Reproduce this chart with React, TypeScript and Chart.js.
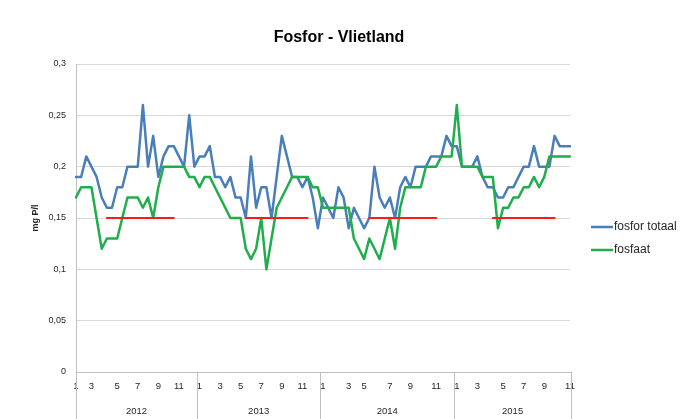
import React, { useEffect, useRef } from 'react';
import { Chart, registerables } from 'chart.js';

Chart.register(...registerables);

const FONT = "'Liberation Sans', Arial, sans-serif";

// ---------- data ----------
const years = ['2012', '2013', '2014', '2015'];

// month of each sample, per year
const months2012 = [1, 1, 2, 3, 3, 4, 4, 4, 5, 5, 5, 6, 7, 7, 7, 8, 9, 9, 9, 10, 11, 11, 12, 12];
const months2013 = [1, 1, 2, 2, 3, 3, 4, 4, 5, 5, 6, 6, 7, 7, 8, 8, 9, 9, 10, 10, 11, 11, 12, 12];
const months2014 = [1, 1, 2, 2, 2, 3, 3, 4, 5, 5, 5, 6, 6, 7, 7, 8, 8, 9, 9, 10, 10, 10, 11, 11, 12, 12];
const months2015 = [1, 1, 2, 2, 3, 3, 4, 4, 4, 5, 5, 6, 6, 7, 7, 8, 8, 9, 9, 10, 10, 10, 11];

// fosfor totaal (mg P/l)
const fosforTotaal2012 = [0.19, 0.19, 0.21, 0.20, 0.19, 0.17, 0.16, 0.16, 0.18, 0.18, 0.20, 0.20, 0.20, 0.26, 0.20, 0.23, 0.19, 0.21, 0.22, 0.22, 0.21, 0.20, 0.25, 0.20];
const fosforTotaal2013 = [0.21, 0.21, 0.22, 0.19, 0.19, 0.18, 0.19, 0.17, 0.17, 0.15, 0.21, 0.16, 0.18, 0.18, 0.15, 0.19, 0.23, 0.21, 0.19, 0.19, 0.18, 0.19, 0.17, 0.14];
const fosforTotaal2014 = [0.17, 0.16, 0.15, 0.18, 0.17, 0.14, 0.16, 0.15, 0.14, 0.15, 0.20, 0.17, 0.16, 0.17, 0.15, 0.18, 0.19, 0.18, 0.20, 0.20, 0.20, 0.21, 0.21, 0.21, 0.23, 0.22];
const fosforTotaal2015 = [0.22, 0.20, 0.20, 0.20, 0.21, 0.19, 0.18, 0.18, 0.17, 0.17, 0.18, 0.18, 0.19, 0.20, 0.20, 0.22, 0.20, 0.20, 0.20, 0.23, 0.22, 0.22, 0.22];

// fosfaat (mg P/l)
const fosfaat2012 = [0.17, 0.18, 0.18, 0.18, 0.15, 0.12, 0.13, 0.13, 0.13, 0.15, 0.17, 0.17, 0.17, 0.16, 0.17, 0.15, 0.18, 0.20, 0.20, 0.20, 0.20, 0.20, 0.19, 0.19];
const fosfaat2013 = [0.18, 0.19, 0.19, 0.18, 0.17, 0.16, 0.15, 0.15, 0.15, 0.12, 0.11, 0.12, 0.15, 0.10, 0.13, 0.16, 0.17, 0.18, 0.19, 0.19, 0.19, 0.19, 0.18, 0.18];
const fosfaat2014 = [0.16, 0.16, 0.16, 0.16, 0.16, 0.16, 0.13, 0.12, 0.11, 0.13, 0.12, 0.11, 0.13, 0.15, 0.12, 0.16, 0.18, 0.18, 0.18, 0.18, 0.20, 0.20, 0.20, 0.21, 0.21, 0.21];
const fosfaat2015 = [0.26, 0.20, 0.20, 0.20, 0.20, 0.19, 0.19, 0.19, 0.14, 0.16, 0.16, 0.17, 0.17, 0.18, 0.18, 0.19, 0.18, 0.19, 0.21, 0.21, 0.21, 0.21, 0.21];

// norm (summer period)
const _ = null;
const norm2012 = [_, _, _, _, _, _, 0.15, 0.15, 0.15, 0.15, 0.15, 0.15, 0.15, 0.15, 0.15, 0.15, 0.15, 0.15, 0.15, 0.15, _, _, _, _];
const norm2013 = [_, _, _, _, _, _, _, _, _, 0.15, 0.15, 0.15, 0.15, 0.15, 0.15, 0.15, 0.15, 0.15, 0.15, 0.15, 0.15, 0.15, _, _];
const norm2014 = [_, _, _, _, _, _, _, _, _, 0.15, 0.15, 0.15, 0.15, 0.15, 0.15, 0.15, 0.15, 0.15, 0.15, 0.15, 0.15, 0.15, 0.15, _, _, _];
const norm2015 = [_, _, _, _, _, _, _, 0.15, 0.15, 0.15, 0.15, 0.15, 0.15, 0.15, 0.15, 0.15, 0.15, 0.15, 0.15, 0.15, _, _, _];

const seriesNames = ['fosfor totaal', 'fosfaat'];
const yMin = 0;
const yMax = 0.3;
const yStep = 0.05;

// ---------- derived ----------
const monthsByYear = [months2012, months2013, months2014, months2015];
const yearCounts = monthsByYear.map((m) => m.length);
const months = monthsByYear.flat();
const fosforTotaal = [fosforTotaal2012, fosforTotaal2013, fosforTotaal2014, fosforTotaal2015].flat();
const fosfaat = [fosfaat2012, fosfaat2013, fosfaat2014, fosfaat2015].flat();
const norm = [norm2012, norm2013, norm2014, norm2015].flat();
const showLabel: boolean[] = [];
monthsByYear.forEach((ms) =>
  ms.forEach((m, i) => showLabel.push(m % 2 === 1 && (i === 0 || ms[i - 1] !== m)))
);

const BLUE = '#4a7ebb';
const GREEN = '#1fae4b';
const RED = '#ff1a1a';
const AXIS = '#bfbfbf';
const GRID = '#d9d9d9';
const TEXT = '#262626';

const decorPlugin = {
  id: 'decor',
  afterDraw(chart: any) {
    const { ctx, chartArea, scales } = chart;
    const x = scales.x;
    ctx.save();
    // title
    ctx.fillStyle = '#000';
    ctx.font = `bold 16px ${FONT}`;
    ctx.textAlign = 'center';
    ctx.textBaseline = 'middle';
    ctx.fillText('Fosfor - Vlietland', 339, 38);

    // year groups
    const edges: number[] = [chartArea.left];
    let start = 0;
    yearCounts.forEach((n, yi) => {
      const end = start + n - 1;
      const e =
        yi === yearCounts.length - 1
          ? chartArea.right + 1
          : (x.getPixelForValue(end) + x.getPixelForValue(end + 1)) / 2;
      edges.push(e);
      start += n;
    });
    ctx.strokeStyle = AXIS;
    ctx.lineWidth = 1;
    edges.forEach((e) => {
      const px = Math.round(e) + 0.5;
      ctx.beginPath();
      ctx.moveTo(px, chartArea.bottom);
      ctx.lineTo(px, chart.height);
      ctx.stroke();
    });
    ctx.fillStyle = TEXT;
    ctx.font = `9.5px ${FONT}`;
    years.forEach((y, i) => {
      ctx.fillText(y, (edges[i] + edges[i + 1]) / 2, chartArea.bottom + 39);
    });

    // legend
    const lx = chartArea.right + 21;
    const cy = (chartArea.top + chartArea.bottom) / 2;
    const rows = [
      { label: seriesNames[0], color: BLUE, y: cy + 9 },
      { label: seriesNames[1], color: GREEN, y: cy + 32 },
    ];
    ctx.font = `12px ${FONT}`;
    ctx.textAlign = 'left';
    rows.forEach((r) => {
      ctx.strokeStyle = r.color;
      ctx.lineWidth = 2.5;
      ctx.beginPath();
      ctx.moveTo(lx, r.y);
      ctx.lineTo(lx + 22, r.y);
      ctx.stroke();
      ctx.fillStyle = TEXT;
      ctx.fillText(r.label, lx + 23, r.y);
    });
    ctx.restore();
  },
};

export default function App() {
  const ref = useRef<HTMLCanvasElement | null>(null);
  useEffect(() => {
    if (!ref.current) return;
    const chart = new Chart(ref.current, {
      type: 'line',
      data: {
        labels: months.map(String),
        datasets: [
          {
            label: 'norm',
            data: norm,
            borderColor: RED,
            borderWidth: 2,
            pointRadius: 0,
            spanGaps: false,
            order: 0,
          },
          {
            label: seriesNames[1],
            data: fosfaat,
            borderColor: GREEN,
            borderWidth: 2.5,
            pointRadius: 0,
            order: 1,
          },
          {
            label: seriesNames[0],
            data: fosforTotaal,
            borderColor: BLUE,
            borderWidth: 2.5,
            pointRadius: 0,
            order: 2,
          },
        ],
      },
      options: {
        responsive: false,
        animation: false,
        events: [],
        layout: { padding: { left: 26, right: 115, top: 64, bottom: 0 } },
        elements: { line: { tension: 0, borderCapStyle: 'round', borderJoinStyle: 'round' } },
        plugins: {
          legend: { display: false },
          title: { display: false },
          tooltip: { enabled: false },
        },
        scales: {
          x: {
            type: 'category',
            offset: false,
            grid: { display: false, drawTicks: false },
            border: { display: true, color: AXIS },
            ticks: {
              autoSkip: false,
              maxRotation: 0,
              minRotation: 0,
              padding: 9,
              color: TEXT,
              font: { family: FONT, size: 9.5 },
              callback: (_v: any, i: number) => (showLabel[i] ? String(months[i]) : ''),
            },
            afterFit: (s: any) => {
              s.height = 47;
            },
          },
          y: {
            min: yMin,
            max: yMax,
            grid: { color: GRID, drawTicks: false },
            border: { display: true, color: AXIS },
            ticks: {
              stepSize: yStep,
              padding: 10,
              color: TEXT,
              font: { family: FONT, size: 9 },
              callback: (v: any) => String(Math.round(Number(v) * 100) / 100).replace('.', ','),
            },
            title: {
              display: true,
              text: 'mg P/l',
              color: TEXT,
              font: { family: FONT, size: 9, weight: 'bold' },
              padding: 4,
            },
            afterFit: (s: any) => {
              s.width = 50;
            },
          },
        },
      },
      plugins: [decorPlugin],
    });
    return () => chart.destroy();
  }, []);
  return (
    <div style={{ position: 'absolute', left: 0, top: 0, width: 685, height: 419, background: '#fff' }}>
      <canvas ref={ref} width={685} height={419} style={{ display: 'block' }} />
    </div>
  );
}
